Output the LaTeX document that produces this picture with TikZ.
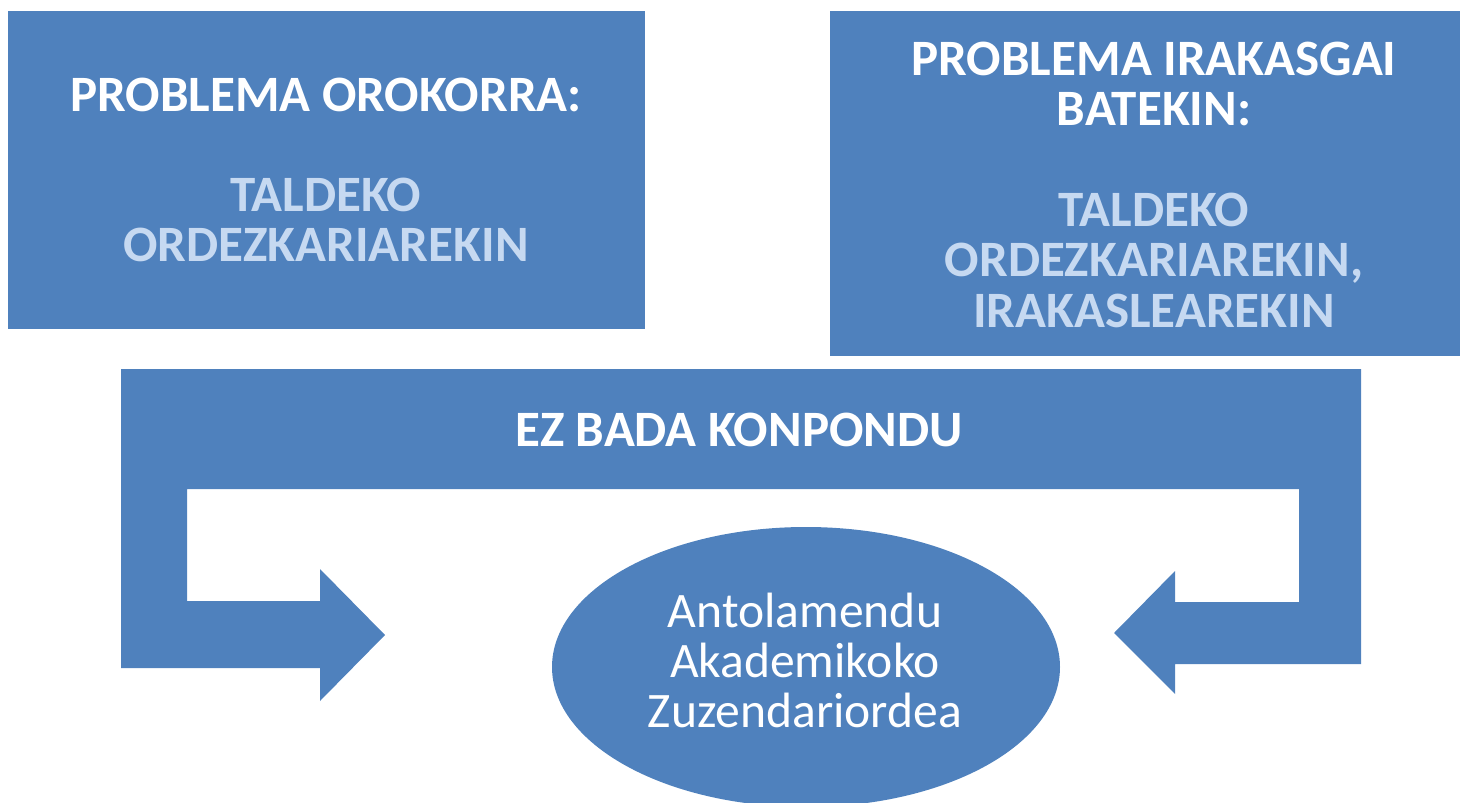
\documentclass[tikz,border=0pt]{standalone}
\usepackage{fontspec}
\setmainfont{Carlito}
\usetikzlibrary{shapes.geometric}
\definecolor{obox}{HTML}{4F81BD}
\definecolor{olight}{HTML}{C6D9F1}
\tikzset{
  bluebox/.style={fill=obox, draw=none, rectangle, inner sep=0pt},
  headtxt/.style={anchor=base, inner sep=0pt, text=white, font=\fontsize{51}{51}\selectfont\bfseries},
  subtxt/.style={anchor=base, inner sep=0pt, text=olight, font=\fontsize{51}{51}\selectfont\bfseries},
  elltxt/.style={anchor=base, inner sep=0pt, text=white, font=\fontsize{49.6}{50}\selectfont},
}
\begin{document}
\begin{tikzpicture}[x=1pt,y=-1pt]
\useasboundingbox (0,0) rectangle (1460,803);
% boxes
\node[bluebox, minimum width=637pt, minimum height=318pt] (lbox) at (326.5,170) {};
\node[bluebox, minimum width=630pt, minimum height=345pt] (rbox) at (1145,183.5) {};
% U-shaped double arrow
\fill[obox] (121,369) -- (1361,369) -- (1361,664) -- (1175,664) -- (1175,694) -- (1114,633)
  -- (1175,571) -- (1175,602) -- (1299,602) -- (1299,489) -- (187,489) -- (187,601)
  -- (320,601) -- (320,569) -- (385,635) -- (320,701) -- (320,668) -- (121,668) -- cycle;
% ellipse
\node[ellipse, fill=obox, draw=none, minimum width=508pt, minimum height=280pt, inner sep=0pt] (ell) at (806,667) {};
% left box text
\node[headtxt] (l1) at (326,111) {PROBLEMA OROKORRA:};
\node[subtxt] (l2) at (326,211) {TALDEKO};
\node[subtxt] (l3) at (326,261) {ORDEZKARIAREKIN};
% right box text
\node[headtxt] (r1) at (1154,75) {PROBLEMA IRAKASGAI};
\node[headtxt] (r2) at (1154,125) {BATEKIN:};
\node[subtxt] (r3) at (1154,226) {TALDEKO};
\node[subtxt] (r4) at (1154,276) {ORDEZKARIAREKIN,};
\node[subtxt] (r5) at (1154,327) {IRAKASLEAREKIN};
% arrow label
\node[headtxt] (ez) at (739,446) {EZ BADA KONPONDU};
% ellipse text
\node[elltxt] (e1) at (805,627) {Antolamendu};
\node[elltxt] (e2) at (805,677) {Akademikoko};
\node[elltxt] (e3) at (805,727) {Zuzendariordea};
\end{tikzpicture}
\end{document}
